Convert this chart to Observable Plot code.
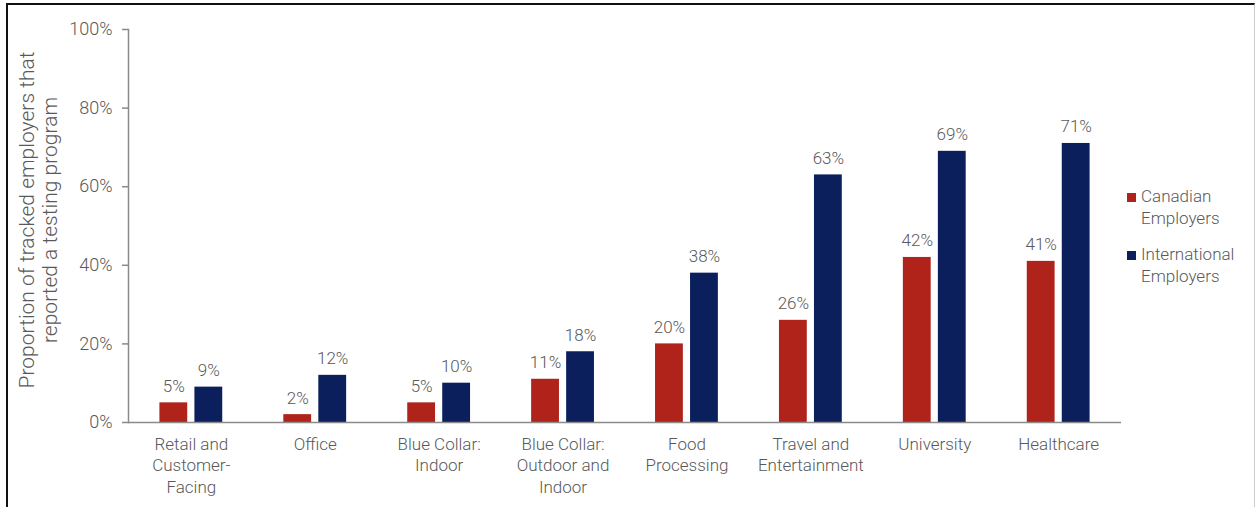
<!DOCTYPE html>
<html>
<head>
<meta charset="utf-8">
<script src="https://cdn.jsdelivr.net/npm/d3@7"></script>
<script src="https://cdn.jsdelivr.net/npm/@observablehq/plot@0.6"></script>
<style>
  body { margin: 0; background: #fff; font-family: Roboto, "Noto Sans", sans-serif; }
  #wrap { position: relative; width: 1255px; height: 507px; overflow: hidden; background: #fff; }
  #wrap svg { position: absolute; left: 0; top: 0; }
  #border { position: absolute; left: 6px; top: 3px; right: 0; bottom: -6px;
            border-top: 2px solid #111; border-left: 2px solid #111; border-right: 1px solid #ccc;
            pointer-events: none; }
  #legend { position: absolute; left: 1127px; top: 185px; font-size: 17px; font-weight: 300;
            color: #595959; line-height: 22px; }
  .item { display: flex; align-items: flex-start; margin-bottom: 14px; }
  .sw { width: 9px; height: 9px; margin-top: 8px; margin-right: 5px; flex: none; }
</style>
</head>
<body>
<div id="wrap">
  <div id="chart"></div>
  <div id="legend"></div>
  <div id="border"></div>
</div>
<script>
// ---- data ----
const categories = [
  "Retail and\nCustomer-\nFacing",
  "Office",
  "Blue Collar:\nIndoor",
  "Blue Collar:\nOutdoor and\nIndoor",
  "Food\nProcessing",
  "Travel and\nEntertainment",
  "University",
  "Healthcare"
];
const seriesNames = ["Canadian Employers", "International Employers"];
const legendLabels = ["Canadian\nEmployers", "International\nEmployers"];
const canadian      = [5, 2, 5, 11, 20, 26, 42, 41];
const international = [9, 12, 10, 18, 38, 63, 69, 71];
const yTicks = [0, 20, 40, 60, 80, 100];
const yTitle = "Proportion of tracked employers that\nreported a testing program";
const colors = ["#AF231B", "#0A1F5C"];

// ---- build rows ----
const rows = [];
categories.forEach((c, i) => {
  rows.push({category: c, series: seriesNames[0], value: canadian[i]});
  rows.push({category: c, series: seriesNames[1], value: international[i]});
});
const isCan = d => d.series === seriesNames[0];
const isInt = d => d.series === seriesNames[1];

const textColor = "#595959";
const axisColor = "#8a8a8a";

const chart = Plot.plot({
  width: 1255,
  height: 507,
  marginLeft: 128,
  marginRight: 134,
  marginTop: 29,
  marginBottom: 85,
  style: {fontFamily: "Roboto, 'Noto Sans', sans-serif", fontWeight: 300, background: "transparent"},
  x: {domain: categories, paddingInner: 0.493, paddingOuter: 0.2535, round: false, axis: null, label: null},
  y: {domain: [0, 100], axis: null, label: null},
  color: {domain: seriesNames, range: colors},
  marks: [
    Plot.barY(rows.filter(isCan), {x: "category", y: "value", fill: "series", insetRight: 35}),
    Plot.barY(rows.filter(isInt), {x: "category", y: "value", fill: "series", insetLeft: 35}),
    Plot.text(rows.filter(isCan), {x: "category", y: "value", text: d => d.value + "%",
      dx: -17.5, dy: -11, lineAnchor: "bottom", fontSize: 17, fill: textColor}),
    Plot.text(rows.filter(isInt), {x: "category", y: "value", text: d => d.value + "%",
      dx: 17.5, dy: -11, lineAnchor: "bottom", fontSize: 17, fill: textColor}),
    Plot.ruleY([0], {stroke: axisColor, strokeWidth: 1.5}),
    Plot.frame({anchor: "left", stroke: axisColor, strokeWidth: 1.5}),
    Plot.axisY({ticks: yTicks, tickFormat: d => d + "%", tickSize: 6, tickPadding: 10,
      fontSize: 18, stroke: axisColor, fill: textColor, strokeWidth: 1.5, label: null}),
    Plot.axisX({tickSize: 0, tickPadding: 12, fontSize: 17, lineHeight: 1.27,
      fill: textColor, label: null}),
    Plot.text([yTitle], {frameAnchor: "left", rotate: -90, lineAnchor: "top", textAnchor: "middle",
      dx: -112, dy: -6, fontSize: 21, lineHeight: 1.14, fill: textColor})
  ]
});
document.getElementById("chart").appendChild(chart);

// ---- legend ----
const legend = document.getElementById("legend");
seriesNames.forEach((s, i) => {
  const item = document.createElement("div");
  item.className = "item";
  const sw = document.createElement("div");
  sw.className = "sw";
  sw.style.background = colors[i];
  const label = document.createElement("div");
  label.innerHTML = legendLabels[i].split("\n").join("<br>");
  item.appendChild(sw);
  item.appendChild(label);
  legend.appendChild(item);
});
</script>
</body>
</html>
